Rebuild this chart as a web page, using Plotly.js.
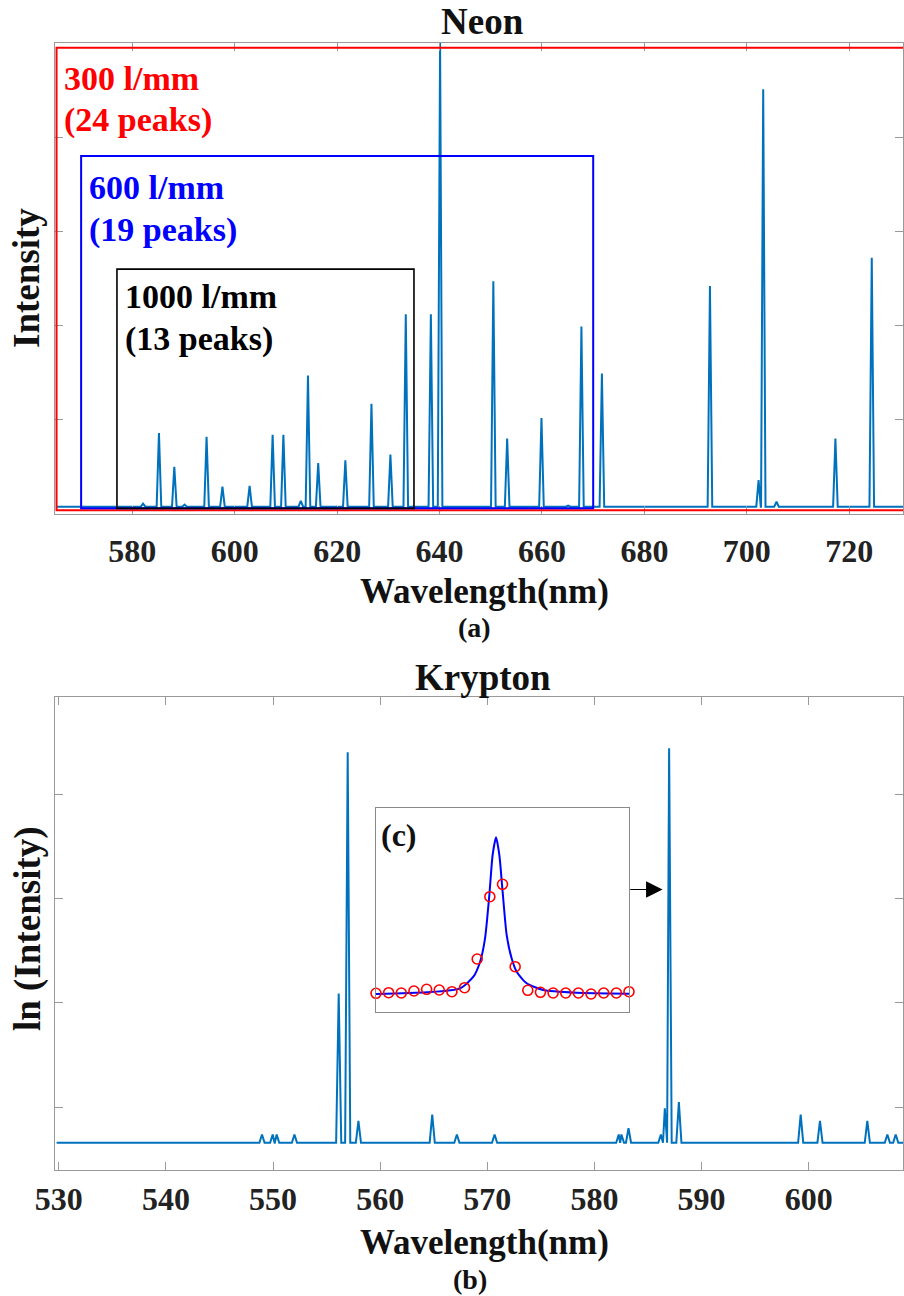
<!DOCTYPE html>
<html><head><meta charset="utf-8">
<script src="https://cdn.plot.ly/plotly-3.0.1.min.js"></script>
<style>html,body{margin:0;padding:0;background:#fff}</style>
</head><body><div id="chart" style="width:904px;height:1296px"></div>
<script>
// ---------- Data ----------
// (a) Neon spectrum: peak wavelengths (nm) and peak intensities (arb. units)
const neonWl   = [582.1,585.2,588.2,590.2,594.5,597.6,602.9,607.4,609.5,612.9,614.3,616.3,621.6,626.7,630.4,633.4,638.3,640.1,650.5,653.2,659.9,665.1,667.7,671.7,692.8,702.3,703.2,705.8,717.3,724.4];
const neonPeak = [0.11,0.86,0.50,0.10,0.82,0.29,0.30,0.84,0.84,0.14,1.47,0.54,0.57,1.17,0.63,2.12,2.12,5.00,2.47,0.80,1.02,0.09,1.99,1.49,2.42,0.36,4.51,0.13,0.80,2.72];
const neonBase = 0.078;
const neonTicks = [580,600,620,640,660,680,700,720];

// grating coverage boxes in (a)
const gratingName   = ['300 l/mm','600 l/mm','1000 l/mm'];
const gratingPeaks  = [24,19,13];
const gratingStart  = [565.2,570.0,577.0];
const gratingEnd    = [740.0,670.0,635.0];
const gratingTop    = [4.95,3.80,2.60];
const gratingBottom = [0.04,0.06,0.06];

// (b) Krypton spectrum, ln(intensity)
const kryptonWl   = [548.97,549.97,550.34,552.0,556.13,556.97,557.97,564.86,567.16,570.68,582.27,582.52,583.18,586.2,586.57,586.97,587.88,599.25,601.05,605.47,607.34,608.12];
const kryptonPeak = [0.74,0.74,0.74,0.74,2.09,4.40,0.87,0.93,0.74,0.74,0.74,0.74,0.80,0.74,0.99,4.44,1.05,0.93,0.87,0.87,0.74,0.74];
const kryptonBase = 0.661;
const kryptonTicks = [530,540,550,560,570,580,590,600];

// (c) inset: measured points and fitted profile around the 587 nm line
const insetWl  = [586.0,586.1,586.2,586.3,586.4,586.5,586.6,586.7,586.8,586.9,587.0,587.1,587.2,587.3,587.4,587.5,587.6,587.7,587.8,587.9,588.0];
const insetVal = [18.7,19.3,19.0,21.0,22.7,22.0,20.3,24.3,53.0,115.3,127.7,45.3,21.7,19.7,19.0,19.0,19.0,18.0,19.0,19.0,20.3];
const fitWl  = [586.000,586.402,586.665,586.770,586.823,586.862,586.896,586.922,586.949,586.975,587.001,587.033,587.072,587.112,587.191,587.322,587.585,588.000];
const fitVal = [18.0,19.7,23.7,35.3,50.3,73.7,117.0,157.0,174.7,157.0,120.3,77.0,53.7,40.3,28.7,22.0,19.3,18.3];

// ---------- Build line traces from peak lists ----------
function spectrum(wl, peak, base, hwMax, xmin, xmax) {
  const x = [xmin], y = [base];
  for (let i = 0; i < wl.length; i++) {
    const prevGap = i > 0 ? wl[i] - wl[i-1] : Infinity;
    const nextGap = i < wl.length - 1 ? wl[i+1] - wl[i] : Infinity;
    const hwL = Math.min(hwMax, prevGap * 0.47);
    const hwR = Math.min(hwMax, nextGap * 0.47);
    x.push(wl[i] - hwL, wl[i], wl[i] + hwR);
    y.push(base, peak[i], base);
  }
  x.push(xmax); y.push(base);
  return {x, y};
}
const neonRange = [564.9, 730.5];
const krRange = [529.65, 608.8];
const ne = spectrum(neonWl, neonPeak, neonBase, 0.45, 565.3, 731);
const kr = spectrum(kryptonWl, kryptonPeak, kryptonBase, 0.24, 529.8, 609);

const LINE = '#0072BD';
const FONT = '"Liberation Serif", "Times New Roman", serif';
const gratingColor = ['#ff0000','#0000ff','#000000'];

const traces = [
  {x: ne.x, y: ne.y, xaxis:'x', yaxis:'y', mode:'lines', line:{color:LINE, width:2}, hoverinfo:'skip'},
  {x: kr.x, y: kr.y, xaxis:'x2', yaxis:'y2', mode:'lines', line:{color:LINE, width:2}, hoverinfo:'skip'},
  {x: fitWl, y: fitVal, xaxis:'x3', yaxis:'y3', mode:'lines', line:{color:'#0000ff', width:2, shape:'spline', smoothing:0.6}, hoverinfo:'skip'},
  {x: insetWl, y: insetVal, xaxis:'x3', yaxis:'y3', mode:'markers', cliponaxis:false,
   marker:{symbol:'circle-open', size:10, color:'#ff0000', line:{color:'#ff0000', width:1.6}}, hoverinfo:'skip'}
];

const px = v => v / 904;
const py = v => 1 - v / 1296;

const axisCommon = {showgrid:false, zeroline:false, showline:true, mirror:'ticks', ticks:'inside', ticklen:8,
  tickcolor:'#9a9a9a', tickwidth:1, linecolor:'#9a9a9a', linewidth:1, fixedrange:true};
const tickFont = {family:FONT, size:32, color:'#222', weight:'bold'};

const shapes = [];
for (let i = 0; i < gratingName.length; i++) {
  shapes.push({type:'rect', xref:'x', yref:'y', x0:gratingStart[i], x1:gratingEnd[i], y0:gratingBottom[i], y1:gratingTop[i],
    line:{color:gratingColor[i], width: i===2 ? 1.6 : 2}, fillcolor:'rgba(0,0,0,0)', layer:'above'});
}

const ann = [];
function txt(t, x, y, size, opts) {
  ann.push(Object.assign({text:t, xref:'paper', yref:'paper', x:px(x), y:py(y), showarrow:false,
    xanchor:'center', yanchor:'middle', font:{family:FONT, size:size, color:'#111', weight:'bold'}}, opts||{}));
}
const labelPos = [[62,78,120],[87,188,230],[123,296,339]];
for (let i = 0; i < gratingName.length; i++) {
  const [lx, y1, y2] = labelPos[i];
  txt(gratingName[i], lx, y1, 34, {xanchor:'left', font:{family:FONT, size:34, color:gratingColor[i], weight:'bold'}});
  txt('(' + gratingPeaks[i] + ' peaks)', lx, y2, 34, {xanchor:'left', font:{family:FONT, size:34, color:gratingColor[i], weight:'bold'}});
}
txt('Neon', 482, 22, 37);
txt('Wavelength(nm)', 484, 591, 35);
txt('(a)', 474, 628, 28);
txt('Intensity', 27, 278, 37, {textangle:-90});
txt('Krypton', 483, 677, 37);
txt('Wavelength(nm)', 484, 1242, 35);
txt('(b)', 470, 1279, 28);
txt('ln (Intensity)', 28, 929, 37, {textangle:-90});
txt('(c)', 399, 835, 32);
ann.push({xref:'x2', yref:'y2', axref:'x2', ayref:'y2', x:586.36, y:3.086, ax:583.2, ay:3.086,
  showarrow:true, arrowhead:2, arrowsize:3, arrowwidth:1.1, arrowcolor:'#000', text:''});

const layout = {
  width:904, height:1296, margin:{l:0, r:0, t:0, b:0}, paper_bgcolor:'#fff', plot_bgcolor:'#fff', showlegend:false,
  xaxis: Object.assign({}, axisCommon, {domain:[px(55), px(903)], anchor:'y', range:neonRange, tickvals:neonTicks,
    ticktext:neonTicks.map(String), tickfont:tickFont, ticklabelstandoff:9}),
  yaxis: Object.assign({}, axisCommon, {domain:[py(514), py(43)], anchor:'x', range:[0,5], tickvals:[0,1,2,3,4,5], showticklabels:false}),
  xaxis2: Object.assign({}, axisCommon, {domain:[px(55), px(903)], anchor:'y2', range:krRange, tickvals:kryptonTicks,
    ticktext:kryptonTicks.map(String), tickfont:tickFont, ticklabelstandoff:1}),
  yaxis2: Object.assign({}, axisCommon, {domain:[py(1170), py(697)], anchor:'x2', range:[0.40,4.93], tickvals:[1,2,3,4], showticklabels:false}),
  xaxis3: {domain:[px(376), px(629)], anchor:'y3', range:[586,588], showline:true, mirror:true, linecolor:'#8a8a8a', linewidth:1,
    ticks:'', showticklabels:false, showgrid:false, zeroline:false, fixedrange:true},
  yaxis3: {domain:[py(1012), py(808)], anchor:'x3', range:[0,204], showline:true, mirror:true, linecolor:'#8a8a8a', linewidth:1,
    ticks:'', showticklabels:false, showgrid:false, zeroline:false, fixedrange:true},
  shapes: shapes,
  annotations: ann
};

Plotly.newPlot('chart', traces, layout, {displayModeBar:false, staticPlot:true});
</script>
</body></html>
